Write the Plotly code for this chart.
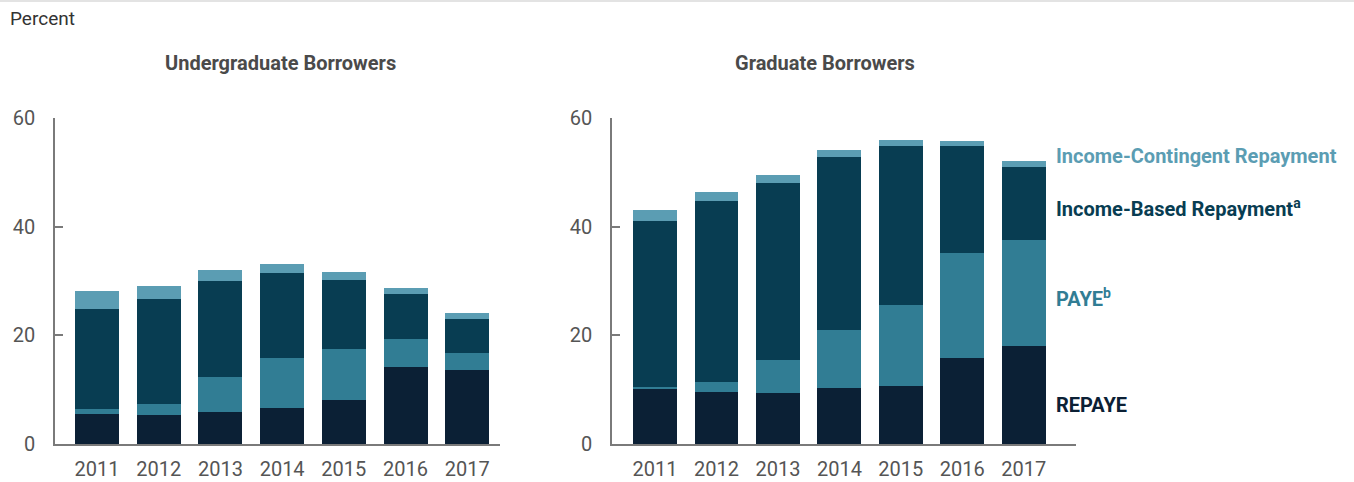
import plotly.graph_objects as go

years = ['2011', '2012', '2013', '2014', '2015', '2016', '2017']

# undergraduate borrowers, percent by plan (stacked)
ug_repaye = [5.6, 5.3, 5.8, 6.6, 8.1, 14.1, 13.6]
ug_paye = [0.8, 2.0, 6.5, 9.2, 9.4, 5.2, 3.1]
ug_ibr = [18.4, 19.4, 17.7, 15.7, 12.7, 8.3, 6.3]
ug_icr = [3.3, 2.4, 2.0, 1.7, 1.5, 1.1, 1.1]

# graduate borrowers
gr_repaye = [10.1, 9.5, 9.3, 10.3, 10.6, 15.8, 18.0]
gr_paye = [0.4, 1.9, 6.1, 10.7, 15.0, 19.4, 19.5]
gr_ibr = [30.6, 33.4, 32.6, 31.9, 29.3, 19.7, 13.5]
gr_icr = [2.0, 1.6, 1.5, 1.3, 1.1, 0.9, 1.1]

C_REPAYE = '#0b2035'
C_PAYE = '#317d94'
C_IBR = '#083d52'
C_ICR = '#5b9db3'

FONT = 'Roboto'
W, H = 1354, 482
M_T, M_B = 118, 38
PLOT_H = H - M_T - M_B


def px_x(p):
    return p / W


def px_y(p):
    # pixel row from top -> paper y
    return 1 + (M_T - p) / PLOT_H


fig = go.Figure()

series = [
    ('REPAYE', ug_repaye, gr_repaye, C_REPAYE),
    ('PAYE', ug_paye, gr_paye, C_PAYE),
    ('IBR', ug_ibr, gr_ibr, C_IBR),
    ('ICR', ug_icr, gr_icr, C_ICR),
]

for name, ug, gr, col in series:
    fig.add_trace(go.Bar(x=years, y=ug, name=name, marker=dict(color=col, line=dict(width=0)),
                         xaxis='x', yaxis='y', showlegend=False))
    fig.add_trace(go.Bar(x=years, y=gr, name=name, marker=dict(color=col, line=dict(width=0)),
                         xaxis='x2', yaxis='y2', showlegend=False))

xcommon = dict(
    type='category',
    showline=True,
    linecolor='#7a7a7a',
    linewidth=1.5,
    ticks='',
    showgrid=False,
    zeroline=False,
    tickfont=dict(family=FONT, size=20, color='#555555'),
    ticklabelstandoff=6,
)
ycommon = dict(
    range=[0, 60],
    tickvals=[0, 20, 40, 60],
    showline=True,
    linecolor='#7a7a7a',
    linewidth=1.5,
    ticks='inside',
    ticklen=8,
    tickwidth=1.5,
    tickcolor='#7a7a7a',
    showgrid=False,
    zeroline=False,
    tickfont=dict(family=FONT, size=20, color='#555555'),
    ticklabelstandoff=14,
)

fig.update_layout(
    width=W,
    height=H,
    barmode='stack',
    bargap=0.285,
    plot_bgcolor='white',
    paper_bgcolor='white',
    margin=dict(l=0, r=0, t=M_T, b=M_B),
    xaxis=dict(xcommon, domain=[px_x(55), px_x(500)], range=[-0.68, 6.53]),
    xaxis2=dict(xcommon, domain=[px_x(612), px_x(1076)], range=[-0.70, 6.85], anchor='y2'),
    yaxis=dict(ycommon, anchor='x'),
    yaxis2=dict(ycommon, anchor='x2'),
)

annotations = [
    dict(text='Percent', x=px_x(8), y=px_y(18), xanchor='left',
         font=dict(family=FONT, size=19, color='#333333')),
    dict(text='<b>Undergraduate Borrowers</b>', x=px_x(280), y=px_y(63), xanchor='center',
         font=dict(family=FONT, size=20, color='#4a4a4a')),
    dict(text='<b>Graduate Borrowers</b>', x=px_x(825), y=px_y(63), xanchor='center',
         font=dict(family=FONT, size=20, color='#4a4a4a')),
    dict(text='<b>Income-Contingent Repayment</b>', x=px_x(1054), y=px_y(156), xanchor='left',
         font=dict(family=FONT, size=20, color=C_ICR)),
    dict(text='<b>Income-Based Repayment<sup>a</sup></b>', x=px_x(1054), y=px_y(208), xanchor='left',
         font=dict(family=FONT, size=20, color=C_IBR)),
    dict(text='<b>PAYE<sup>b</sup></b>', x=px_x(1054), y=px_y(298), xanchor='left',
         font=dict(family=FONT, size=20, color=C_PAYE)),
    dict(text='<b>REPAYE</b>', x=px_x(1054), y=px_y(405), xanchor='left',
         font=dict(family=FONT, size=20, color=C_REPAYE)),
]
for a in annotations:
    a.update(xref='paper', yref='paper', showarrow=False, yanchor='middle')
fig.update_layout(annotations=annotations)

fig.add_shape(type='line', xref='paper', yref='paper', x0=0, x1=1,
              y0=px_y(1), y1=px_y(1), line=dict(color='#e3e3e3', width=2))

# page body has a default 8px margin; drop it so the figure sits at 0,0
fig.write_html('out.html', config={'displayModeBar': False},
               post_script="document.body.style.margin='0px';")
